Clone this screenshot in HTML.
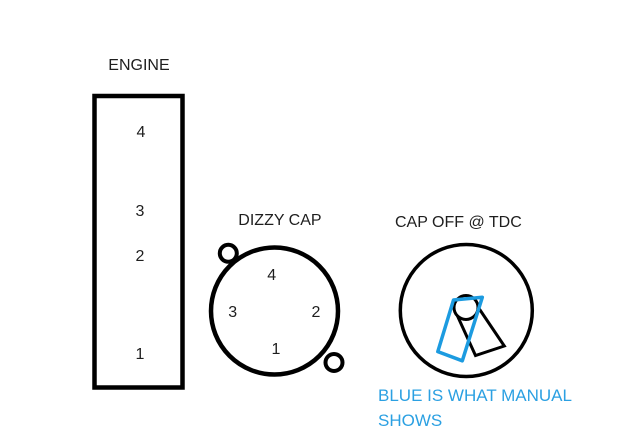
<!DOCTYPE html>
<html>
<head>
<meta charset="utf-8">
<style>
  html,body{margin:0;padding:0;background:#fff;}
  svg{display:block;}
  text{font-family:"Liberation Sans",Arial,sans-serif;}
</style>
</head>
<body>
<svg width="620" height="436" viewBox="0 0 620 436" xmlns="http://www.w3.org/2000/svg">
  <rect x="0" y="0" width="620" height="436" fill="#fff"/>

  <!-- ENGINE -->
  <text x="108.3" y="70" font-size="16" fill="#1e1e1e">ENGINE</text>
  <rect x="94.5" y="96" width="88" height="291.5" fill="none" stroke="#000" stroke-width="4.5"/>
  <g font-size="16" fill="#1e1e1e" text-anchor="middle">
    <text x="141" y="137">4</text>
    <text x="140" y="216">3</text>
    <text x="140" y="261">2</text>
    <text x="140" y="359">1</text>
  </g>

  <!-- DIZZY CAP -->
  <text x="238.3" y="225" font-size="16" fill="#1e1e1e">DIZZY CAP</text>
  <circle cx="274.5" cy="311" r="63.5" fill="none" stroke="#000" stroke-width="4.5"/>
  <circle cx="228.3" cy="253.3" r="8.5" fill="#fff" stroke="#000" stroke-width="4"/>
  <circle cx="334" cy="362.5" r="8.5" fill="#fff" stroke="#000" stroke-width="4"/>
  <g font-size="16" fill="#1e1e1e" text-anchor="middle">
    <text x="271.7" y="280">4</text>
    <text x="232.7" y="317">3</text>
    <text x="316" y="317">2</text>
    <text x="276" y="354">1</text>
  </g>

  <!-- CAP OFF @ TDC -->
  <text x="395" y="227" font-size="16" fill="#1e1e1e">CAP OFF @ TDC</text>
  <circle cx="466.3" cy="310.5" r="66" fill="none" stroke="#000" stroke-width="3.5"/>
  <!-- rotor -->
  <circle cx="466" cy="307.5" r="12" fill="none" stroke="#000" stroke-width="3"/>
  <path d="M457.5,316 L475.5,355.5 L504.3,346 L478,307" fill="none" stroke="#000" stroke-width="3" stroke-linejoin="miter"/>
  <!-- blue manual -->
  <polygon points="453.5,300 437.8,351.6 462.3,360.8 482.3,297.3" fill="none" stroke="#1c9be0" stroke-width="3.5" stroke-linejoin="round"/>

  <g font-size="17" fill="#2ba0e2">
    <text x="378" y="401">BLUE IS WHAT MANUAL</text>
    <text x="378" y="426">SHOWS</text>
  </g>
</svg>
</body>
</html>
